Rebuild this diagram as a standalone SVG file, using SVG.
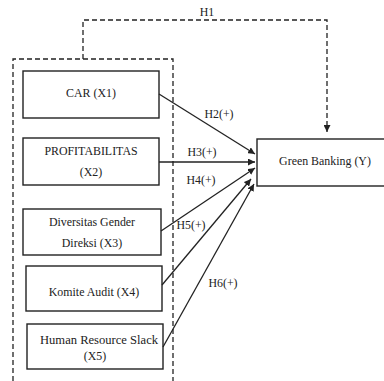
<svg xmlns="http://www.w3.org/2000/svg" width="384" height="381" viewBox="0 0 384 381">
<style>
text{font-family:"Liberation Serif","Times New Roman",serif;font-size:11.9px;fill:#222;text-anchor:middle}
.box{fill:#fff;stroke:#222;stroke-width:1.4}
.dash{fill:none;stroke:#222;stroke-width:1.3;stroke-dasharray:5,3}
.conn{stroke:#222;stroke-width:1.3;fill:none}
</style>
<defs>
<marker id="ah" viewBox="0 0 10 10" refX="10" refY="5" markerWidth="7" markerHeight="7" markerUnits="userSpaceOnUse" orient="auto">
<path d="M0,0 L10,5 L0,10 z" fill="#222"/>
</marker>
</defs>
<rect width="384" height="381" fill="#fff"/>
<g id="frame">
<path class="dash" d="M13,381 V59 H173 V381"/>
</g>
<g id="node-car"><rect class="box" x="23" y="71" width="136" height="47"/><text x="91" y="97">CAR (X1)</text></g>
<g id="node-profit"><rect class="box" x="23" y="138" width="136" height="47"/><text x="91" y="155">PROFITABILITAS</text><text x="91" y="176">(X2)</text></g>
<g id="node-gender"><rect class="box" x="23" y="209" width="138" height="46"/><text x="92" y="226">Diversitas Gender</text><text x="92" y="247">Direksi (X3)</text></g>
<g id="node-audit"><rect class="box" x="26" y="266" width="136" height="45"/><text x="94" y="296">Komite Audit (X4)</text></g>
<g id="node-hrs"><rect class="box" x="27" y="324" width="136" height="45"/><text x="99" y="344" textLength="118" lengthAdjust="spacingAndGlyphs">Human Resource Slack</text><text x="95" y="360">(X5)</text></g>
<g id="node-green"><rect class="box" x="257" y="139" width="140" height="47"/><text x="325" y="165">Green Banking (Y)</text></g>
<g id="connectors">
<path class="dash" d="M83,59 V20 H327 V132" marker-end="url(#ah)"/>
<line class="conn" x1="159" y1="94" x2="255" y2="154" marker-end="url(#ah)"/>
<line class="conn" x1="159" y1="162" x2="255" y2="162" marker-end="url(#ah)"/>
<line class="conn" x1="161" y1="231" x2="255" y2="168" marker-end="url(#ah)"/>
<line class="conn" x1="162" y1="285" x2="251" y2="179" marker-end="url(#ah)"/>
<line class="conn" x1="163" y1="347" x2="254" y2="184" marker-end="url(#ah)"/>
</g>
<g id="labels">
<text x="207" y="16">H1</text>
<text x="219" y="118">H2(+)</text>
<text x="202" y="156">H3(+)</text>
<text x="201" y="184">H4(+)</text>
<text x="191" y="229">H5(+)</text>
<text x="223" y="287">H6(+)</text>
</g>
</svg>
